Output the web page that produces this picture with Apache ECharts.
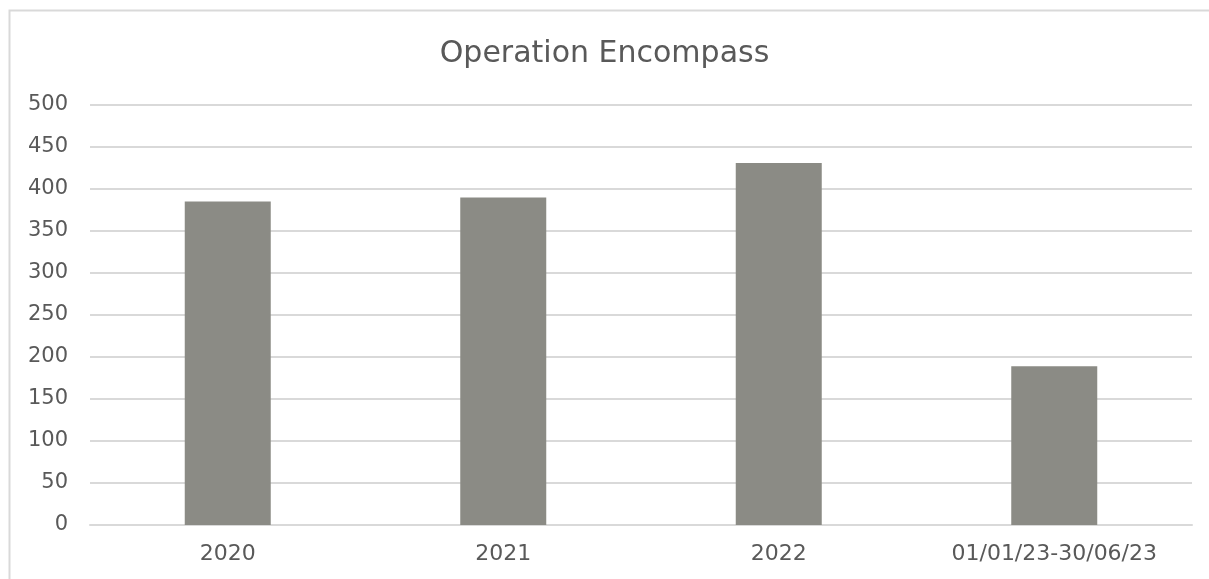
<!DOCTYPE html>
<html>
<head>
<meta charset="utf-8">
<script src="https://cdn.jsdelivr.net/npm/echarts@6/dist/echarts.min.js"></script>
<style>
html,body{margin:0;padding:0;background:#fff;}
#c{width:1209px;height:579px;}
</style>
</head>
<body>
<div id="c"></div>
<script>
const categories = ['2020', '2021', '2022', '01/01/23-30/06/23'];
const values = [385, 390, 431, 189];
const yTicks = [0, 50, 100, 150, 200, 250, 300, 350, 400, 450, 500];
const titleText = 'Operation Encompass';

const chart = echarts.init(document.getElementById('c'), null, {renderer: 'canvas'});
chart.setOption({
  animation: false,
  backgroundColor: '#ffffff',
  graphic: [{
    type: 'rect',
    shape: {x: 9.5, y: 10.5, width: 1240, height: 600},
    style: {fill: 'none', stroke: '#d9d9d9', lineWidth: 2},
    silent: true
  }],
  title: {
    text: titleText,
    left: 'center',
    top: 34,
    textStyle: {fontFamily: 'DejaVu Sans', fontWeight: 'normal', fontSize: 30, color: '#595959'}
  },
  grid: {left: 90, right: 17, top: 105, bottom: 54, containLabel: false},
  xAxis: {
    type: 'category',
    data: categories,
    axisLine: {show: true, lineStyle: {color: '#d9d9d9', width: 2}},
    axisTick: {show: false},
    axisLabel: {fontFamily: 'DejaVu Sans', fontSize: 22, color: '#595959', margin: 18}
  },
  yAxis: {
    type: 'value',
    min: yTicks[0],
    max: yTicks[yTicks.length - 1],
    interval: 50,
    axisLine: {show: false},
    axisTick: {show: false},
    splitLine: {lineStyle: {color: '#d9d9d9', width: 2}},
    axisLabel: {fontFamily: 'DejaVu Sans', fontSize: 21, color: '#595959', margin: 22}
  },
  series: [{
    type: 'bar',
    data: values,
    barWidth: 86,
    itemStyle: {color: '#8b8b85'}
  }]
});
</script>
</body>
</html>
